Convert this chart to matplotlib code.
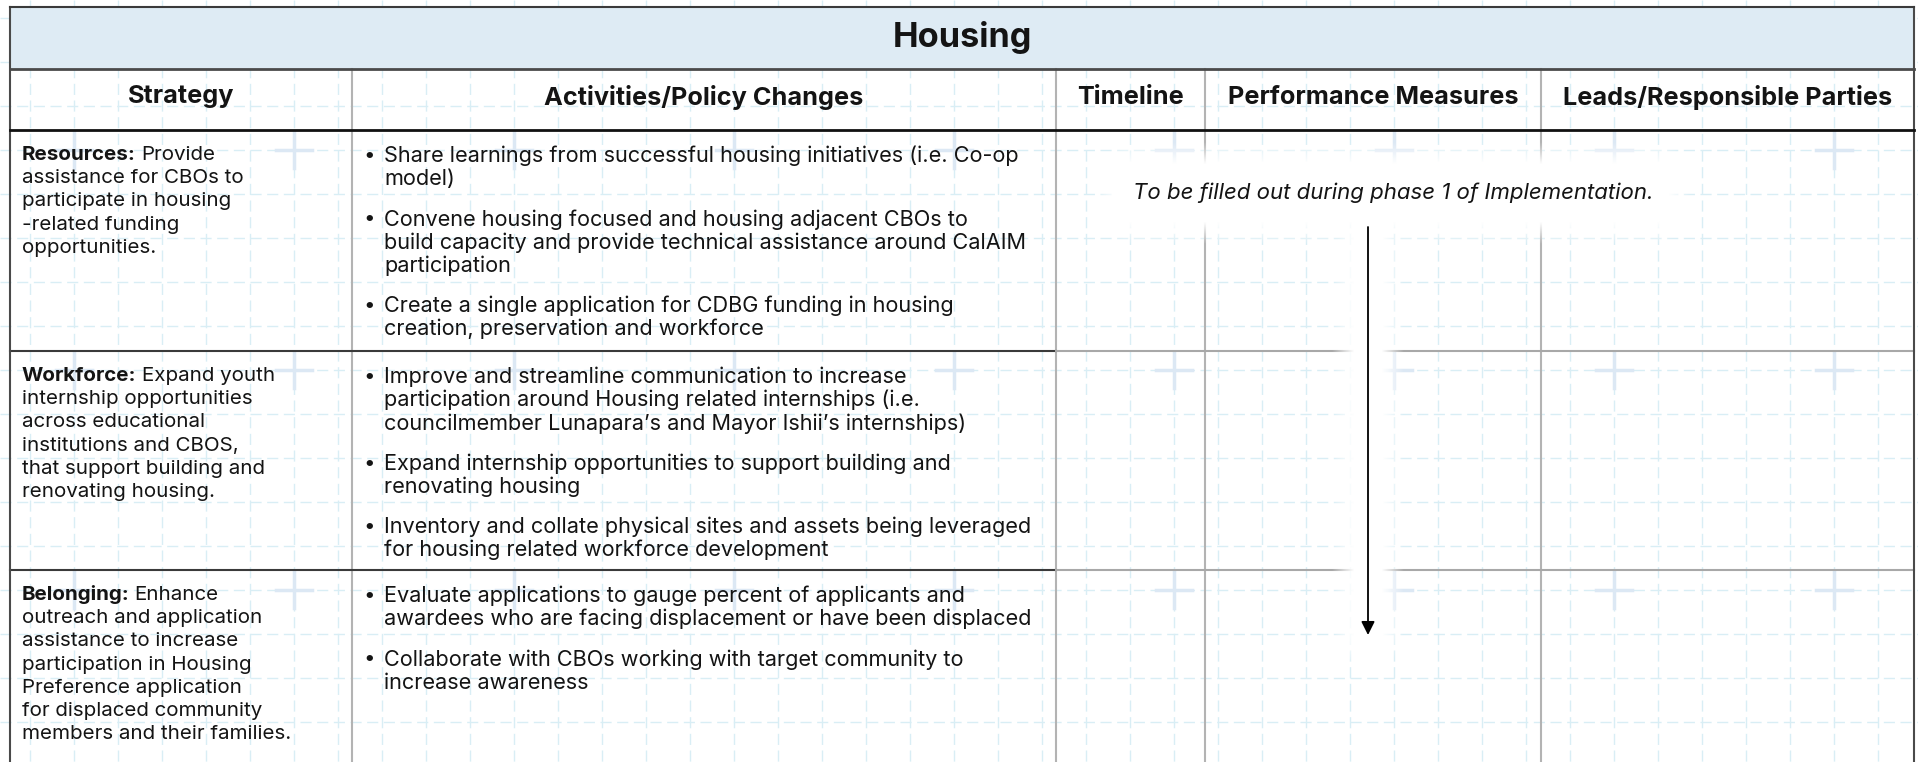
import matplotlib.pyplot as plt
from matplotlib.patches import Rectangle
import numpy as np

plt.rcParams['font.family'] = ['Inter', 'DejaVu Sans']

W, H = 1918, 762

TITLE = "Housing"
HEADERS = ["Strategy", "Activities/Policy Changes", "Timeline",
           "Performance Measures", "Leads/Responsible Parties"]
STRATEGY_LEADS = ["Resources:", "Workforce:", "Belonging:"]
STRATEGY_TEXT = [
    ["Provide", "assistance for CBOs to", "participate in housing",
     "-related funding", "opportunities."],
    ["Expand youth", "internship opportunities", "across educational",
     "institutions and CBOS,", "that support building and",
     "renovating housing."],
    ["Enhance", "outreach and application", "assistance to increase",
     "participation in Housing", "Preference application",
     "for displaced community", "members and their families."],
]
ACTIVITIES = [
    [["Share learnings from successful housing initiatives (i.e. Co-op",
      "model)"],
     ["Convene housing focused and housing adjacent CBOs to",
      "build capacity and provide technical assistance around CalAIM",
      "participation"],
     ["Create a single application for CDBG funding in housing",
      "creation, preservation and workforce"]],
    [["Improve and streamline communication to increase",
      "participation around Housing related internships (i.e.",
      "councilmember Lunapara\u2019s and Mayor Ishii\u2019s internships)"],
     ["Expand internship opportunities to support building and",
      "renovating housing"],
     ["Inventory and collate physical sites and assets being leveraged",
      "for housing related workforce development"]],
    [["Evaluate applications to gauge percent of applicants and",
      "awardees who are facing displacement or have been displaced"],
     ["Collaborate with CBOs working with target community to",
      "increase awareness"]],
]
NOTE = "To be filled out during phase 1 of Implementation."

# layout (pixels)
COL_X = [10, 352, 1056, 1205, 1541, 1914]
TOP, TITLE_BOTTOM, HEAD_BOTTOM = 7, 69, 130
ROW_TOPS = [130, 351, 570]
LINE_H = 23.2
BULLET_GAP = 17
STRAT_FS = 14.8
ACT_FS = 15.6
TEXT_COLOR = '#141414'
GRID_COLOR = '#d9eef5'
CROSS_COLOR = '#dce8f4'

fig = plt.figure(figsize=(W / 100, H / 100), dpi=100)
ax = fig.add_axes([0, 0, 1, 1])
ax.set_xlim(0, W)
ax.set_ylim(H, 0)
ax.axis('off')

# blueprint style background grid
for gx in np.arange(30, W, 44):
    ax.plot([gx, gx], [0, H], color=GRID_COLOR, lw=1, dashes=(8, 4), zorder=0)
for gy in np.arange(18, H, 44):
    ax.plot([0, W], [gy, gy], color=GRID_COLOR, lw=1, dashes=(8, 4), zorder=0)
for cx in np.arange(74, W, 220):
    for cy in np.arange(150, H, 220):
        ax.plot([cx - 18, cx + 18], [cy, cy], color=CROSS_COLOR, lw=2.5, zorder=0.5)
        ax.plot([cx, cx], [cy - 18, cy + 18], color=CROSS_COLOR, lw=2.5, zorder=0.5)

# title band
ax.add_patch(Rectangle((COL_X[0], TOP), COL_X[-1] - COL_X[0], TITLE_BOTTOM - TOP,
                       facecolor='#deebf4', edgecolor='none', zorder=1))

# table lines
for cx in COL_X[1:-1]:
    ax.plot([cx, cx], [TITLE_BOTTOM, H], color='#b3b3b3', lw=1.5, zorder=2)
for ry in ROW_TOPS[1:]:
    ax.plot([COL_X[0], COL_X[2]], [ry, ry], color='#3a3a3a', lw=1.5, zorder=2)
    ax.plot([COL_X[2], COL_X[-1]], [ry, ry], color='#a8a8a8', lw=1.5, zorder=2)
ax.plot([COL_X[0], COL_X[0]], [TOP, H], color='#4a4a4a', lw=1.5, zorder=3)
ax.plot([COL_X[-1], COL_X[-1]], [TOP, H], color='#4a4a4a', lw=1.5, zorder=3)
ax.plot([COL_X[0], COL_X[-1]], [TOP, TOP], color='#3a3a3a', lw=1.5, zorder=3)
ax.plot([COL_X[0], COL_X[-1]], [TITLE_BOTTOM, TITLE_BOTTOM], color='#4a4a4a', lw=2, zorder=3)
ax.plot([COL_X[0], COL_X[-1]], [HEAD_BOTTOM, HEAD_BOTTOM], color='#111111', lw=2, zorder=3)

# white glow around the note and the arrow
arrow_x, arrow_y0, arrow_y1 = 1368, 227, 635
note_box = (1131, 178, 1655, 208)
yy, xx = np.mgrid[0:H, 0:W] + 0.5
dy_a = np.maximum(np.maximum(arrow_y0 - yy, yy - arrow_y1), 0)
d_arrow = np.hypot(xx - arrow_x, dy_a)
dx_n = np.maximum(np.maximum(note_box[0] - xx, xx - note_box[2]), 0)
dy_n = np.maximum(np.maximum(note_box[1] - yy, yy - note_box[3]), 0)
d_note = np.hypot(dx_n, dy_n)
d = np.minimum(d_arrow, d_note)
glow = np.ones((H, W, 4))
glow[..., 3] = np.clip(1 - (d - 14) / 22, 0, 1)
ax.imshow(glow, extent=(0, W, H, 0), zorder=4, interpolation='bilinear', aspect='auto')

# title and headers
ax.text((COL_X[0] + COL_X[-1]) / 2, 38, TITLE, ha='center', va='center',
        fontsize=24.7, fontweight='bold', color=TEXT_COLOR, zorder=5)
for i, head in enumerate(HEADERS):
    ax.text((COL_X[i] + COL_X[i + 1]) / 2, 97, head, ha='center', va='center',
            fontsize=18.2, fontweight='bold', color=TEXT_COLOR, zorder=5)

renderer = fig.canvas.get_renderer()

# strategy column
for r, top in enumerate(ROW_TOPS):
    y = top + 25
    lead = ax.text(22, y, STRATEGY_LEADS[r], ha='left', va='center',
                   fontsize=STRAT_FS, fontweight='bold', color=TEXT_COLOR, zorder=5)
    x_end = lead.get_window_extent(renderer).x1
    for k, line in enumerate(STRATEGY_TEXT[r]):
        lx = x_end + 5 if k == 0 else 22
        ax.text(lx, y + k * LINE_H, line, ha='left', va='center',
                fontsize=STRAT_FS, color=TEXT_COLOR, zorder=5)

# activities column
for r, top in enumerate(ROW_TOPS):
    y = top + 26
    for bullet in ACTIVITIES[r]:
        ax.text(369, y, '\u2022', ha='center', va='center',
                fontsize=STRAT_FS, color=TEXT_COLOR, zorder=5)
        for line in bullet:
            ax.text(384, y, line, ha='left', va='center',
                    fontsize=ACT_FS, color=TEXT_COLOR, zorder=5)
            y += LINE_H
        y += BULLET_GAP

# placeholder note and arrow
ax.text((note_box[0] + note_box[2]) / 2, 193, NOTE, ha='center', va='center',
        fontsize=16, fontstyle='italic', color=TEXT_COLOR, zorder=5)
ax.annotate('', xy=(arrow_x, arrow_y1), xytext=(arrow_x, arrow_y0),
            arrowprops=dict(arrowstyle='-|>', color='black', lw=1.3,
                            mutation_scale=20, shrinkA=0, shrinkB=0), zorder=5)

fig.savefig('out.png', dpi=100)
